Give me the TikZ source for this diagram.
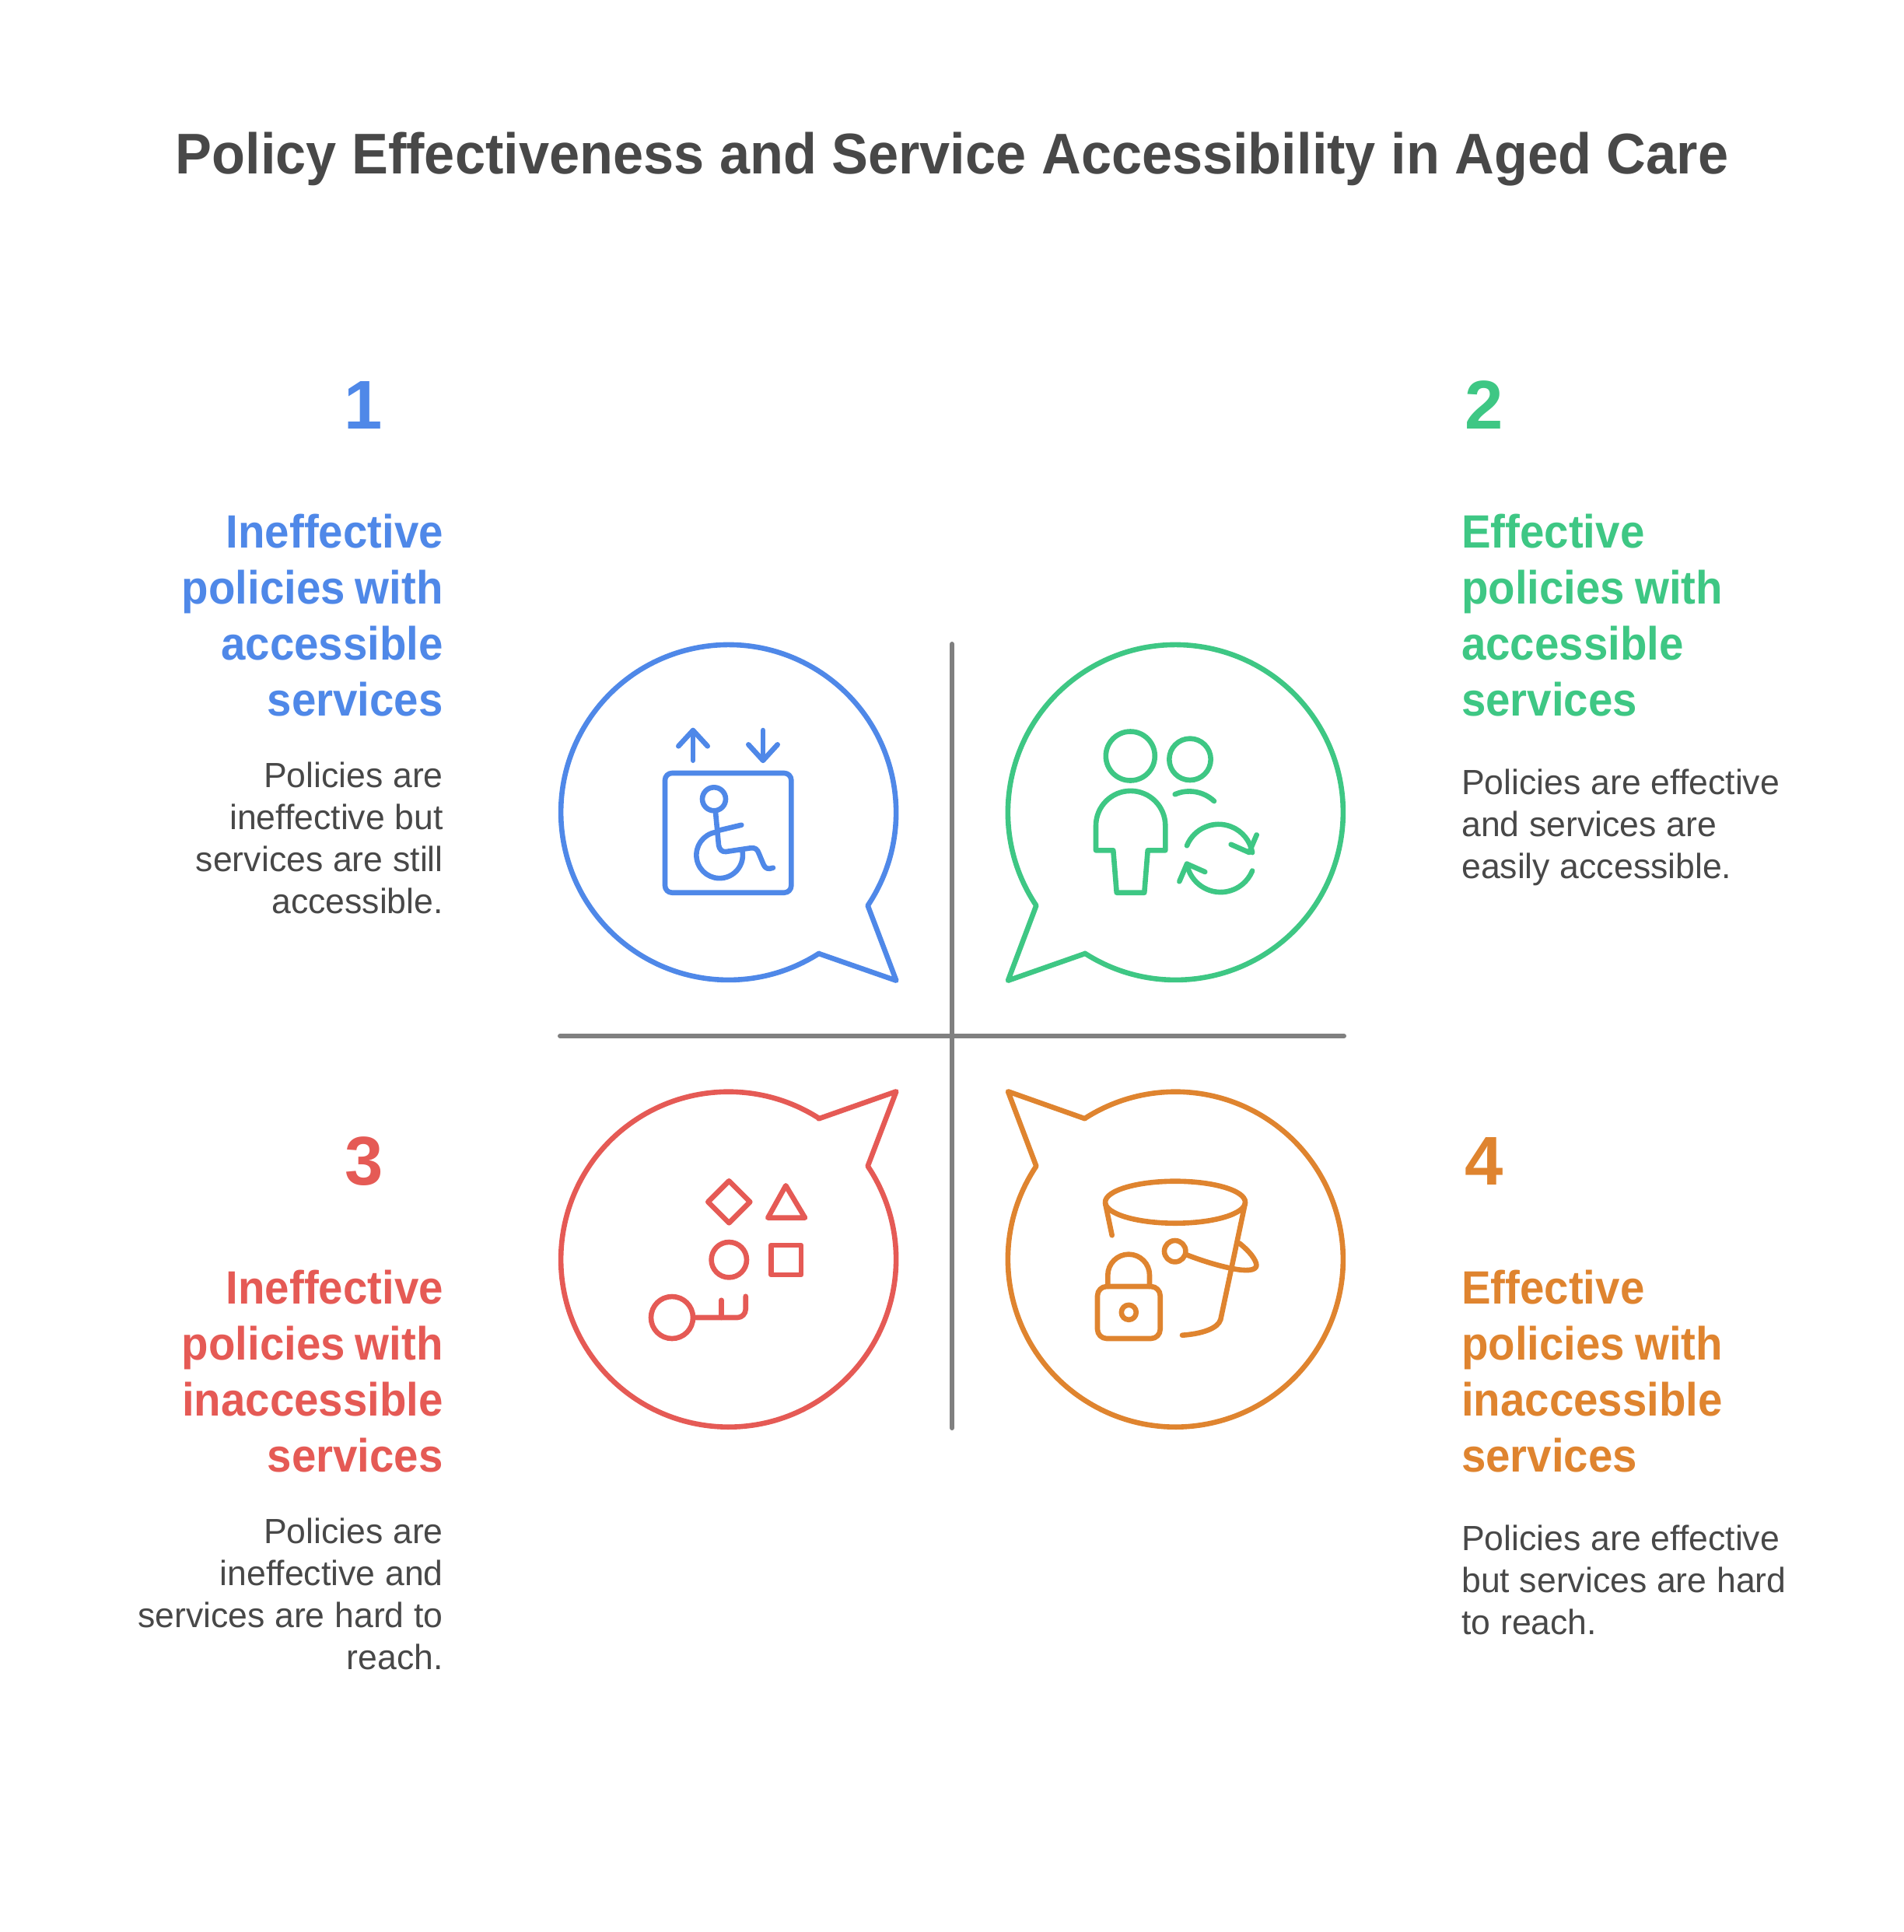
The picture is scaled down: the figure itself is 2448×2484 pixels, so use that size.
\documentclass[tikz,border=0pt]{standalone}
\usepackage{fontspec}
\setmainfont{Liberation Sans}
\definecolor{cblue}{HTML}{4F88E8}
\definecolor{cgreen}{HTML}{3EC784}
\definecolor{cred}{HTML}{E55A55}
\definecolor{corange}{HTML}{DF842F}
\definecolor{cink}{HTML}{484848}
\definecolor{caxis}{HTML}{808080}
\newfontfamily\titlefont[FakeStretch=0.952]{Liberation Sans Bold}
\newfontfamily\headfont[FakeStretch=0.94]{Liberation Sans Bold}
\newfontfamily\numfont{Liberation Sans Bold}
\newfontfamily\bodyfont[FakeStretch=0.99]{Liberation Sans}
\tikzset{
    icon/.style={line width=0.066cm, line cap=round, line join=round},
    axis/.style={line width=0.06cm, line cap=round, caxis},
    title/.style={anchor=base, text=cink, inner sep=0, font=\titlefont\fontsize{21}{25}\selectfont},
    number/.style={anchor=base, inner sep=0, font=\numfont\fontsize{25.2}{30}\selectfont},
    headtext/.style={inner sep=0, text width=4.5cm, font=\headfont\fontsize{17.07}{20.49}\selectfont, execute at begin node={\spaceskip=0.215em\relax}},
    bodytext/.style={inner sep=0, text width=4.5cm, text=cink, font=\bodyfont\fontsize{12.8}{15.36}\selectfont, execute at begin node={\spaceskip=0.285em\relax}},
    lefthead/.style={headtext, anchor=base east, align=right},
    righthead/.style={headtext, anchor=base west, align=left},
    leftbody/.style={bodytext, anchor=base east, align=right},
    rightbody/.style={bodytext, anchor=base west, align=left},
}
\begin{document}
\begin{tikzpicture}[x=0.01cm, y=0.01cm]
    \useasboundingbox (0,0) rectangle (2448,-2484);
    \node[title] (heading) at (1224,-223) {Policy Effectiveness and Service Accessibility in Aged Care};

    % axes
    \coordinate (vtop) at (1224,-828);
    \coordinate (vbot) at (1224,-1836);
    \coordinate (hleft) at (720,-1332);
    \coordinate (hright) at (1728,-1332);
    \draw[axis] (vtop) -- (vbot);
    \draw[axis] (hleft) -- (hright);

    % quadrant 1
    \node[number, cblue] (num1) at (467,-551) {1};
    \node[lefthead, cblue] (head1) at (570.5,-704.5) {Ineffective\\policies with\\accessible\\services};
    \node[leftbody] (body1) at (570.5,-1012.5) {Policies are\\ineffective but\\services are still\\accessible.};
    \begin{scope}[icon, cblue]
        \draw (1052.7,-1226) -- (1152.3,-1260.7) -- (1115.7,-1164.3) arc (-33.8:302.7:215.5) -- cycle;
        \draw (891,-977.7) -- (891,-939);
        \draw (872.3,-959.3) -- (891,-939) -- (909.7,-959.3);
        \draw (981,-939) -- (981,-977.7);
        \draw (962.3,-957.3) -- (981,-977.7) -- (999.7,-957.3);
        \draw[rounded corners=0.09cm] (855,-994) rectangle (1017.3,-1147.7);
        \draw (918,-1027.3) circle[radius=15];
        \draw (920,-1044.3) -- (924,-1086.7) .. controls (925,-1092) and (928,-1095.5) .. (933.3,-1095) -- (965,-1090.3)
            .. controls (971,-1089.5) and (974,-1092) .. (976,-1098) -- (981.7,-1111.7) .. controls (984,-1117) and (988,-1118) .. (994,-1115.7);
        \draw (924,-1067.7) -- (953.3,-1060.7);
        \draw (920,-1070) arc (100:373:29.8);
    \end{scope}

    % quadrant 2
    \node[number, cgreen] (num2) at (1908,-551) {2};
    \node[righthead, cgreen] (head2) at (1878.5,-704.5) {Effective\\policies with\\accessible\\services};
    \node[rightbody] (body2) at (1878.5,-1021.5) {Policies are effective\\and services are\\easily accessible.};
    \begin{scope}[icon, cgreen]
        \draw (1395,-1226) -- (1296,-1260.7) -- (1332.3,-1164.3) arc (213.8:-122.7:215.5) -- cycle;
        \draw (1453.3,-972) circle[radius=31.5];
        \draw (1530,-976.3) circle[radius=26.7];
        \draw (1431.3,-1093.3) -- (1409,-1093.3) -- (1409,-1061.5) arc (180:0:44.65) -- (1498.3,-1093.3) -- (1475.7,-1093.3)
            -- (1471.3,-1147.7) -- (1435.7,-1147.7) -- cycle;
        \draw (1510.7,-1021.3) .. controls (1527,-1014) and (1547,-1017) .. (1561,-1030);
        \draw (1526,-1087.3) arc (158:10:44);
        \draw (1526,-1110.7) arc (190:338:44);
        \draw (1582.7,-1085.7) -- (1606,-1096) -- (1615.7,-1073.3);
        \draw (1549.3,-1121) -- (1526,-1110.7) -- (1516.3,-1133.3);
    \end{scope}

    % quadrant 3
    \node[number, cred] (num3) at (468,-1523) {3};
    \node[lefthead, cred] (head3) at (570.5,-1676.5) {Ineffective\\policies with\\inaccessible\\services};
    \node[leftbody] (body3) at (570.5,-1984.5) {Policies are\\ineffective and\\services are hard to\\reach.};
    \begin{scope}[icon, cred]
        \draw (1052.7,-1438.3) -- (1152.3,-1403.3) -- (1115.7,-1499.3) arc (33.8:-302.7:215.5) -- cycle;
        \draw (937.3,-1518.3) -- (964.3,-1545.3) -- (937.3,-1572.3) -- (910.3,-1545.3) -- cycle;
        \draw (1010.3,-1524.3) -- (1035,-1565.7) -- (987.3,-1565.7) -- cycle;
        \draw (937.3,-1619.7) circle[radius=22.7];
        \draw (991.3,-1601) rectangle (1030,-1639);
        \draw (864,-1694) circle[radius=27];
        \draw (891,-1694) -- (948,-1694) arc (-90:0:10.7) -- (958.7,-1666.7);
        \draw (927.3,-1671.7) -- (927.3,-1694);
    \end{scope}

    % quadrant 4
    \node[number, corange] (num4) at (1908,-1523) {4};
    \node[righthead, corange] (head4) at (1878.5,-1676.5) {Effective\\policies with\\inaccessible\\services};
    \node[rightbody] (body4) at (1878.5,-1993.5) {Policies are effective\\but services are hard\\to reach.};
    \begin{scope}[icon, corange]
        \draw (1395,-1438.3) -- (1296,-1403.3) -- (1332.3,-1499.3) arc (146.2:482.7:215.5) -- cycle;
        \draw (1511,-1545.7) ellipse[x radius=90, y radius=27];
        \draw (1421,-1546.7) -- (1429.7,-1588.3);
        \draw (1601,-1546.7) -- (1569.3,-1696.7) .. controls (1566,-1708) and (1545,-1715) .. (1520,-1716.7);
        \draw (1510.7,-1608.7) circle[radius=13.7];
        \draw (1525.7,-1613.3) .. controls (1548,-1622) and (1572,-1629) .. (1590,-1632)
            .. controls (1606,-1634.5) and (1618,-1633) .. (1615,-1624) .. controls (1612,-1615) and (1602,-1605) .. (1593.3,-1598.3);
        \draw[rounded corners=0.12cm] (1411,-1654) rectangle (1491.7,-1721);
        \draw (1424.3,-1654) -- (1424.3,-1639.5) arc (180:0:26.85) -- (1478,-1654);
        \draw (1451.3,-1687.3) circle[radius=9.5];
    \end{scope}
\end{tikzpicture}
\end{document}
